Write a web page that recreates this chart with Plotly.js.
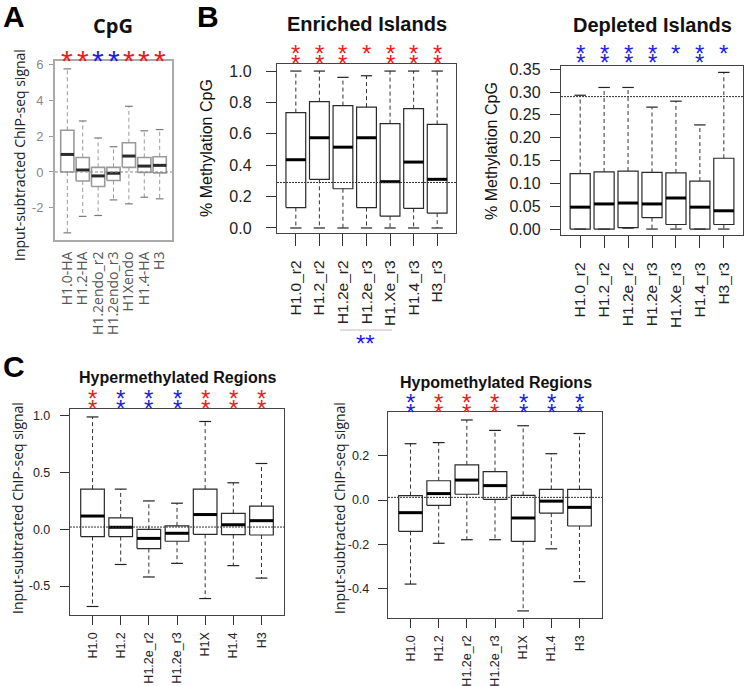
<!DOCTYPE html>
<html><head><meta charset="utf-8">
<script src="https://cdn.plot.ly/plotly-3.0.1.min.js"></script>
<style>html,body{margin:0;padding:0;background:#fff}#chart{width:745px;height:686px}</style>
</head><body><div id="chart"></div>
<script>
// ---------- Panel A : CpG ----------
const catsA = ['H1.0-HA','H1.2-HA','H1.2endo_r2','H1.2endo_r3','H1Xendo','H1.4-HA','H3'];
const loA  = [-3.4, -2.48, -2.43, -1.56, -1.78, -1.41, -1.5];
const q1A  = [0.0, -0.5, -0.81, -0.48, 0.26, -0.02, -0.05];
const medA = [0.98, 0.11, -0.22, -0.07, 0.89, 0.33, 0.37];
const q3A  = [2.33, 0.81, 0.26, 0.26, 1.63, 0.81, 0.85];
const hiA  = [5.76, 2.85, 1.9, 1.41, 3.67, 2.3, 2.37];
const refA = 0;
const yTicksA = [-2, 0, 2, 4, 6];
const yTickTextA = ['-2', '0', '2', '4', '6'];
const starColA = ['red','red','blue','blue','red','red','red'];
const starNA   = [1,1,1,1,1,1,1];

// ---------- Panel B : Enriched Islands ----------
const catsB = ['H1.0_r2','H1.2_r2','H1.2e_r2','H1.2e_r3','H1.Xe_r3','H1.4_r3','H3_r3'];
const loB  = [0, 0, 0, 0, 0, 0, 0];
const q1B  = [0.13, 0.31, 0.25, 0.13, 0.075, 0.125, 0.095];
const medB = [0.435, 0.575, 0.515, 0.575, 0.295, 0.42, 0.31];
const q3B  = [0.735, 0.805, 0.78, 0.77, 0.665, 0.76, 0.66];
const hiB  = [1.0, 1.0, 0.96, 0.97, 1.0, 1.0, 1.0];
const refB = 0.29;
const yTicksB = [0, 0.2, 0.4, 0.6, 0.8, 1.0];
const yTickTextB = ['0.0','0.2','0.4','0.6','0.8','1.0'];
const starColB = ['red','red','red','red','red','red','red'];
const starNB   = [2,2,2,1,2,2,2];

// ---------- Panel B : Depleted Islands ----------
const catsD = ['H1.0_r2','H1.2_r2','H1.2e_r2','H1.2e_r3','H1.Xe_r3','H1.4_r3','H3_r3'];
const loD  = [0, 0, 0.002, 0, 0, 0, 0];
const q1D  = [0, 0, 0.003, 0.025, 0.01, 0, 0.01];
const medD = [0.048, 0.055, 0.057, 0.055, 0.068, 0.048, 0.04];
const q3D  = [0.1215, 0.125, 0.127, 0.124, 0.123, 0.105, 0.155];
const hiD  = [0.293, 0.31, 0.31, 0.267, 0.28, 0.228, 0.343];
const refD = 0.29;
const yTicksD = [0, 0.05, 0.1, 0.15, 0.2, 0.25, 0.3, 0.35];
const yTickTextD = ['0.00','0.05','0.10','0.15','0.20','0.25','0.30','0.35'];
const starColD = ['blue','blue','blue','blue','blue','blue','blue'];
const starND   = [2,2,2,2,1,2,1];

// ---------- Panel C : Hypermethylated Regions ----------
const catsC = ['H1.0','H1.2','H1.2e_r2','H1.2e_r3','H1X','H1.4','H3'];
const loC  = [-0.68, -0.31, -0.42, -0.30, -0.61, -0.32, -0.43];
const q1C  = [-0.064, -0.064, -0.17, -0.105, -0.044, -0.047, -0.05];
const medC = [0.117, 0.018, -0.08, -0.035, 0.13, 0.04, 0.076];
const q3C  = [0.354, 0.10, 0.0, 0.03, 0.354, 0.14, 0.205];
const hiC  = [0.99, 0.354, 0.25, 0.23, 0.95, 0.41, 0.58];
const refC = 0.02;
const yTicksC = [-0.5, 0, 0.5, 1.0];
const yTickTextC = ['-0.5','0.0','0.5','1.0'];
const starColC = ['red','blue','blue','blue','red','red','red'];
const starNC   = [2,2,2,2,2,2,2];

// ---------- Panel C : Hypomethylated Regions ----------
const catsE = ['H1.0','H1.2','H1.2e_r2','H1.2e_r3','H1X','H1.4','H3'];
const loE  = [-0.379, -0.195, -0.179, -0.179, -0.50, -0.22, -0.368];
const q1E  = [-0.141, -0.024, 0.026, 0.003, -0.186, -0.059, -0.117];
const medE = [-0.057, 0.029, 0.09, 0.065, -0.081, -0.005, -0.033];
const q3E  = [0.02, 0.087, 0.159, 0.128, 0.021, 0.048, 0.048];
const hiE  = [0.254, 0.259, 0.361, 0.314, 0.335, 0.209, 0.30];
const refE = 0.012;
const yTicksE = [-0.4, -0.2, 0, 0.2];
const yTickTextE = ['-0.4','-0.2','0.0','0.2'];
const starColE = ['blue','red','red','red','blue','blue','blue'];
const starNE   = [2,2,2,2,2,2,2];

// ---------- layout helpers ----------
const W = 745, H = 686;
const px = p => p / W;
const py = p => 1 - p / H;
const COL = {red:'#ee1b1b', blue:'#1c1ce8'};
const SANS = 'Liberation Sans, Arial, sans-serif';

const panels = [
  {ax:'', cats:catsA, lo:loA, q1:q1A, med:medA, q3:q3A, hi:hiA, ref:refA, yt:yTicksA, ytt:yTickTextA,
   sc:starColA, sn:starNA, box:[55,172,61,240], yr:[-3.8,6.2], faded:true,
   starRows:[52], starSize:30, yFont:13, xFont:14, ylen:4, xlen:0, ystand:3, xstand:4, half:0.43, cap:0.25},
  {ax:'2', cats:catsB, lo:loB, q1:q1B, med:medB, q3:q3B, hi:hiB, ref:refB, yt:yTicksB, ytt:yTickTextB,
   sc:starColB, sn:starNB, box:[277,456,64,233], yr:[-0.032,1.045],
   starRows:[47,57], starSize:24, yFont:16, xFont:15.5, ylen:10, xlen:12, ystand:11, xstand:8, half:0.42, cap:0.24},
  {ax:'3', cats:catsD, lo:loD, q1:q1D, med:medD, q3:q3D, hi:hiD, ref:refD, yt:yTicksD, ytt:yTickTextD,
   sc:starColD, sn:starND, box:[561,743,66,235], yr:[-0.013,0.357],
   starRows:[47,56], starSize:24, yFont:16, xFont:15.5, ylen:10, xlen:12, ystand:6, xstand:8, half:0.42, cap:0.24},
  {ax:'4', cats:catsC, lo:loC, q1:q1C, med:medC, q3:q3C, hi:hiC, ref:refC, yt:yTicksC, ytt:yTickTextC,
   sc:starColC, sn:starNC, box:[70,284,409,615], yr:[-0.755,1.06],
   starRows:[392,402], starSize:24, yFont:12.5, xFont:12.5, ylen:9, xlen:9, ystand:7, xstand:2, half:0.42, cap:0.21},
  {ax:'5', cats:catsE, lo:loE, q1:q1E, med:medE, q3:q3E, hi:hiE, ref:refE, yt:yTicksE, ytt:yTickTextE,
   sc:starColE, sn:starNE, box:[388,602,412,618], yr:[-0.532,0.397],
   starRows:[396,406], starSize:24, yFont:12.5, xFont:12.5, ylen:9, xlen:9, ystand:6, xstand:2, half:0.42, cap:0.21},
];

const traces = [];
const layout = {
  width: W, height: H, margin:{l:0,r:0,t:0,b:0}, paper_bgcolor:'#fff', plot_bgcolor:'rgba(0,0,0,0)',
  showlegend:false, annotations:[], shapes:[], font:{family:SANS, color:'#222'}
};

panels.forEach(P => {
  const xa = 'x' + P.ax, ya = 'y' + P.ax;
  const boxC = P.faded ? '#9a9a9a' : '#2a2a2a';
  const medC = P.faded ? '#2a2a2a' : '#000';
  const whC  = P.faded ? '#9a9a9a' : '#333';
  const capC = P.faded ? '#7a7a7a' : '#222';
  const rx=[], ry=[], mx=[], my=[], wx=[], wy=[], cx=[], cy=[];
  P.cats.forEach((c,i) => {
    const a=i-P.half, b=i+P.half;
    rx.push(a,b,b,a,a,null); ry.push(P.q1[i],P.q1[i],P.q3[i],P.q3[i],P.q1[i],null);
    mx.push(a,b,null); my.push(P.med[i],P.med[i],null);
    wx.push(i,i,null,i,i,null); wy.push(P.q3[i],P.hi[i],null,P.q1[i],P.lo[i],null);
    cx.push(i-P.cap,i+P.cap,null,i-P.cap,i+P.cap,null); cy.push(P.hi[i],P.hi[i],null,P.lo[i],P.lo[i],null);
  });
  const base = {type:'scatter', mode:'lines', xaxis:xa, yaxis:ya, hoverinfo:'skip', cliponaxis:false};
  traces.push(Object.assign({}, base, {x:wx, y:wy, line:{color:whC, width:1, dash:'4px,3px'}}));
  traces.push(Object.assign({}, base, {x:cx, y:cy, line:{color:capC, width:1.2}}));
  traces.push(Object.assign({}, base, {x:rx, y:ry, line:{color:boxC, width:P.faded?1.6:1.2}}));
  traces.push(Object.assign({}, base, {x:mx, y:my, line:{color:medC, width:3}}));

  const [l,r,t,b] = P.box;
  const frameC = P.faded ? '#aaaaaa' : '#444';
  const tickC  = P.faded ? '#888' : '#222';
  layout['xaxis'+P.ax] = {
    domain:[px(l),px(r)], anchor:ya, range:[-0.8,6.8], tickvals:P.cats.map((c,i)=>i), ticktext:P.cats,
    tickangle:-90, ticks:P.xlen? 'outside':'', ticklen:P.xlen, tickcolor:'#333', ticklabelstandoff:P.xstand,
    showline:true, mirror:true, linecolor:frameC, linewidth:P.faded?2:1.2,
    showgrid:false, zeroline:false, fixedrange:true,
    tickfont:{size:P.xFont, color:P.faded?'#555':'#222', family:P.faded?'Open Sans, sans-serif':SANS}
  };
  layout['yaxis'+P.ax] = {
    domain:[py(b),py(t)], anchor:xa, range:P.yr, tickvals:P.yt, ticktext:P.ytt,
    ticks:'outside', ticklen:P.ylen, tickcolor:P.faded?'#999':'#333', ticklabelstandoff:P.ystand,
    showline:true, mirror:true, linecolor:frameC, linewidth:P.faded?2:1.2,
    showgrid:false, zeroline:false, fixedrange:true,
    tickfont:{size:P.yFont, color:tickC, family:SANS}
  };
  layout.shapes.push({type:'line', xref:xa+' domain', yref:ya, x0:0, x1:1, y0:P.ref, y1:P.ref,
    line:{color:P.faded?'#888':'#333', width:1, dash:P.faded?'3px,2px':'2px,1px'}});

  // significance stars
  P.cats.forEach((c,i) => {
    for (let k=0;k<P.sn[i];k++){
      const rowPx = P.starRows[k];
      layout.annotations.push({xref:xa, yref:'paper', x:i, y:py(rowPx + 0.27*P.starSize),
        text:'*', showarrow:false, xanchor:'center', yanchor:'middle',
        font:{size:P.starSize, color:COL[P.sc[i]], family:SANS}});
    }
  });
});

// comparison marker under Enriched Islands labels
const cmpB = [2, 4];
layout.shapes.push({type:'line', xref:'x2', yref:'paper', x0:cmpB[0]-0.1, x1:cmpB[1]+0.1, y0:py(330), y1:py(330),
  line:{color:'#777', width:1, dash:'1px,1px'}});
layout.annotations.push({xref:'x2', yref:'paper', x:(cmpB[0]+cmpB[1])/2 - 0.05, y:py(337+0.27*24), text:'**', showarrow:false,
  xanchor:'center', yanchor:'middle', font:{size:24, color:COL.blue, family:SANS}});

// titles, panel letters, axis titles
function ann(text, x, y, size, opts){
  layout.annotations.push(Object.assign({xref:'paper', yref:'paper', x:px(x), y:py(y), text:text, showarrow:false,
    xanchor:'center', yanchor:'middle', font:{size:size, color:'#111', family:SANS}}, opts||{}));
}
const OPEN = {size:14, color:'#222', family:'Open Sans, sans-serif'};
ann('<b>A</b>', 14, 16, 30, {font:{size:30, color:'#000', family:SANS}});
ann('<b>B</b>', 208, 16, 30, {font:{size:30, color:'#000', family:SANS}});
ann('<b>C</b>', 14, 366, 30, {font:{size:30, color:'#000', family:SANS}});
ann('<b>CpG</b>', 113, 26, 20, {font:{size:20, color:'#111', family:'Open Sans, sans-serif'}});
ann('<b>Enriched Islands</b>', 367, 24, 20);
ann('<b>Depleted Islands</b>', 652, 25, 20);
ann('<b>Hypermethylated Regions</b>', 177, 378, 16);
ann('<b>Hypomethylated Regions</b>', 496, 382, 16);
ann('Input-subtracted ChIP-seq signal', 20, 155, 14, {textangle:-90, font:OPEN});
ann('% Methylation CpG', 207, 148, 16, {textangle:-90});
ann('% Methylation CpG', 491, 151, 16, {textangle:-90});
ann('Input-subtracted ChIP-seq signal', 17, 508, 14, {textangle:-90, font:OPEN});
ann('Input-subtracted ChIP-seq signal', 339, 508, 14, {textangle:-90, font:OPEN});

Plotly.newPlot('chart', traces, layout, {staticPlot:true, displayModeBar:false});
</script>
</body></html>
